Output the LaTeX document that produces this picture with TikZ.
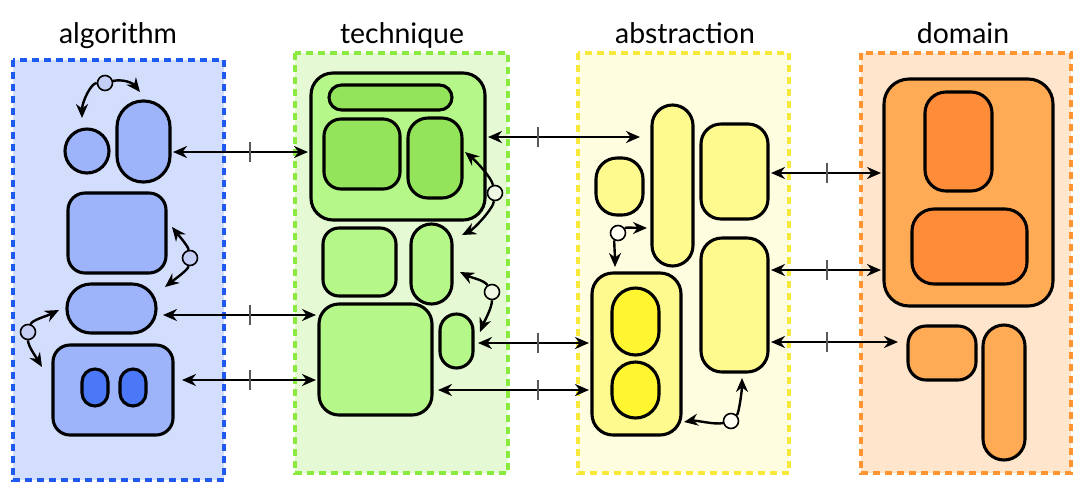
\documentclass[tikz,border=0pt]{standalone}
\usepackage{fontspec}
\newfontfamily\titlefont{Lato}
\usetikzlibrary{arrows.meta}
\definecolor{aBg}{HTML}{D3DDFC}\definecolor{aBd}{HTML}{1F5AF0}\definecolor{aFill}{HTML}{9DB4FA}\definecolor{aDark}{HTML}{4A78F7}\definecolor{aKnob}{HTML}{C5CEF5}
\definecolor{tBg}{HTML}{E5FAD4}\definecolor{tBd}{HTML}{8AEB3F}\definecolor{tFill}{HTML}{B5F788}\definecolor{tDark}{HTML}{93E35B}\definecolor{tKnob}{HTML}{EEF8E4}
\definecolor{bBg}{HTML}{FFFDE0}\definecolor{bBd}{HTML}{F7E93A}\definecolor{bFill}{HTML}{FFFA8E}\definecolor{bDark}{HTML}{FFF530}\definecolor{bKnob}{HTML}{FFFFF5}
\definecolor{dBg}{HTML}{FEE5CC}\definecolor{dBd}{HTML}{FF9430}\definecolor{dFill}{HTML}{FFAA55}\definecolor{dDark}{HTML}{FF8C38}
\tikzset{
  panel/.style={line width=1.6pt, dash pattern=on 3.5pt off 2.5pt},
  title/.style={anchor=base, font=\titlefont\fontsize{14.2}{16}\selectfont, text=black, inner sep=0pt},
  blob/.style={draw=black, line width=1.55pt, inner sep=0pt, outer sep=0pt, rectangle},
  sz/.style n args={3}{minimum width=#1*0.5pt, minimum height=#2*0.5pt, rounded corners=#3*0.5pt},
  knob/.style={circle, draw=black, line width=0.8pt, minimum size=7.5pt, inner sep=0pt},
  harr/.style={line width=1.3pt, {Stealth[length=7pt,width=6pt]}-{Stealth[length=7pt,width=6pt]}, shorten <=1.5pt, shorten >=1.5pt},
  carr/.style={line width=1.2pt, -{Stealth[length=7pt,width=6pt]}},
  tickmark/.style={draw=black!65, line width=0.7pt},
}
\begin{document}
\begin{tikzpicture}[x=0.5pt,y=-0.5pt]
\useasboundingbox (0,0) rectangle (1092,494);
% panels
\fill[aBg] (13,60) rectangle (224,480); \draw[aBd,panel] (13,60) rectangle (224,480);
\fill[tBg] (295,53) rectangle (508,473); \draw[tBd,panel] (295,53) rectangle (508,473);
\fill[bBg] (578,53) rectangle (789,473); \draw[bBd,panel] (578,53) rectangle (789,473);
\fill[dBg] (861,53) rectangle (1071,473); \draw[dBd,panel] (861,53) rectangle (1071,473);
% titles
\node[title] (ttlA) at (118,43) {algorithm};
\node[title] (ttlT) at (402,43) {technique};
\node[title] (ttlB) at (685,43) {abstraction};
\node[title] (ttlD) at (963,43) {domain};
% algorithm
\node[blob, circle, fill=aFill, minimum size=22pt] (aCirc) at (87,151) {};
\node[blob, fill=aFill, sz={53}{81}{26}] (aTall) at (143.5,141.5) {};
\node[blob, fill=aFill, sz={98}{80}{17}] (aBig) at (117,233) {};
\node[blob, fill=aFill, sz={89}{49}{24}] (aPill) at (111.5,308.5) {};
\node[blob, fill=aFill, sz={120}{90}{17}] (aBot) at (113,390) {};
\node[blob, fill=aDark, sz={26}{37}{13}] (aIn1) at (95,387.5) {};
\node[blob, fill=aDark, sz={26}{37}{13}] (aIn2) at (133,387.5) {};
% technique
\node[blob, fill=tFill, sz={174}{147}{22}] (tBig) at (398,146.5) {};
\node[blob, fill=tDark, sz={123}{25}{12.5}] (tTop) at (390.5,97.5) {};
\node[blob, fill=tDark, sz={76}{70}{17}] (tIn1) at (362,154) {};
\node[blob, fill=tDark, sz={54}{80}{20}] (tIn2) at (435,158) {};
\node[blob, fill=tFill, sz={73}{68}{16}] (tMid) at (359.5,262) {};
\node[blob, fill=tFill, sz={41}{80}{20.5}] (tTall) at (431.5,264) {};
\node[blob, fill=tFill, sz={113}{111}{20}] (tSq) at (375.5,359.5) {};
\node[blob, fill=tFill, sz={33}{54}{16.5}] (tSmall) at (456.5,341) {};
% abstraction
\node[blob, fill=bFill, sz={41}{161}{20.5}] (bTall) at (672.5,185.5) {};
\node[blob, fill=bFill, sz={47}{57}{21}] (bSmall) at (619.5,186.5) {};
\node[blob, fill=bFill, sz={67}{95}{20}] (bTop) at (734.5,171.5) {};
\node[blob, fill=bFill, sz={67}{134}{21}] (bBot) at (734.5,305) {};
\node[blob, fill=bFill, sz={89}{162}{21}] (bGrp) at (636.5,354) {};
\node[blob, fill=bDark, sz={47}{67}{23.5}] (bIn1) at (635.5,321.5) {};
\node[blob, fill=bDark, sz={47}{56}{23.5}] (bIn2) at (635.5,390) {};
% domain
\node[blob, fill=dFill, sz={169}{227}{25}] (dBig) at (968.5,192.5) {};
\node[blob, fill=dDark, sz={67}{99}{21}] (dIn1) at (958.5,141.5) {};
\node[blob, fill=dDark, sz={115}{75}{22}] (dIn2) at (969.5,246.5) {};
\node[blob, fill=dFill, sz={68}{54}{18}] (dSmall) at (942,353) {};
\node[blob, fill=dFill, sz={42}{135}{21}] (dTall) at (1004,392.5) {};
% row coordinates
\coordinate (r1) at (0,152); \coordinate (r2) at (0,315); \coordinate (r3) at (0,380);
\coordinate (s1) at (0,137); \coordinate (s2) at (0,343); \coordinate (s3) at (0,390);
\coordinate (u1) at (0,173); \coordinate (u2) at (0,270); \coordinate (u3) at (0,342);
% horizontal connectors
\draw[harr] (aTall.east |- r1) -- (tBig.west |- r1);
\draw[harr, shorten <=3.5pt] (aPill.east |- r2) -- (tSq.west |- r2);
\draw[harr, shorten <=4.5pt] (aBot.east |- r3) -- (tSq.west |- r3);
\draw[harr] (tBig.east |- s1) -- ([xshift=-4.5pt]bTall.west |- s1);
\draw[harr, shorten <=2.5pt] (tSmall.east |- s2) -- (bGrp.west |- s2);
\draw[harr, shorten <=3pt] (tSq.east |- s3) -- (bGrp.west |- s3);
\draw[harr] (bTop.east |- u1) -- (dBig.west |- u1);
\draw[harr] (bBot.east |- u2) -- (dBig.west |- u2);
\draw[harr, shorten >=5pt] (bBot.east |- u3) -- (dSmall.west |- u3);
% ticks
\foreach \x/\y in {250/152, 250/315, 250/380, 538/137, 538/343, 538/390, 827/173, 827/270, 827/342}
  \draw[tickmark] (\x,\y-10) -- (\x,\y+10);
% curved arrows with knobs
\node[knob, fill=aKnob] (k1) at (105,83) {};
\coordinate (k1a) at (82,118); \coordinate (k1b) at (140,92);
\draw[carr] (k1) .. controls +(-14,0) and +(0,-16) .. (k1a);
\draw[carr] (k1) .. controls +(16,-4) and +(-8,-10) .. (k1b);
\node[knob, fill=aKnob] (k2) at (190,258) {};
\coordinate (k2a) at (172,227); \coordinate (k2b) at (165,287);
\draw[carr] (k2) .. controls +(-2,-12) and +(8,10) .. (k2a);
\draw[carr] (k2) .. controls +(-2,12) and +(10,-8) .. (k2b);
\node[knob, fill=aKnob] (k3) at (28,332) {};
\coordinate (k3a) at (59,310); \coordinate (k3b) at (42,367);
\draw[carr] (k3) .. controls +(4,-12) and +(-12,6) .. (k3a);
\draw[carr] (k3) .. controls +(0,14) and +(-6,-10) .. (k3b);
\node[knob, fill=tKnob] (k4) at (495,193) {};
\coordinate (k4a) at (465,152); \coordinate (k4b) at (462,235);
\draw[carr] (k4) .. controls +(-4,-16) and +(12,10) .. (k4a);
\draw[carr] (k4) .. controls +(-2,16) and +(12,-6) .. (k4b);
\node[knob, fill=tKnob] (k5) at (492,292) {};
\coordinate (k5a) at (460,272); \coordinate (k5b) at (480,332);
\draw[carr] (k5) .. controls +(-8,-12) and +(12,6) .. (k5a);
\draw[carr] (k5) .. controls +(0,16) and +(4,-10) .. (k5b);
\node[knob, fill=bKnob] (k6) at (618,233) {};
\coordinate (k6a) at (647,228); \coordinate (k6b) at (615,267);
\draw[carr] (k6) .. controls +(8,-6) and +(-10,0) .. (k6a);
\draw[carr] (k6) .. controls +(-4,8) and +(0,-10) .. (k6b);
\node[knob, fill=bKnob] (k7) at (731,421) {};
\coordinate (k7a) at (684,422); \coordinate (k7b) at (742,378);
\draw[carr] (k7) .. controls +(-16,4) and +(12,-2) .. (k7a);
\draw[carr] (k7) .. controls +(8,-8) and +(0,12) .. (k7b);
\end{tikzpicture}
\end{document}
